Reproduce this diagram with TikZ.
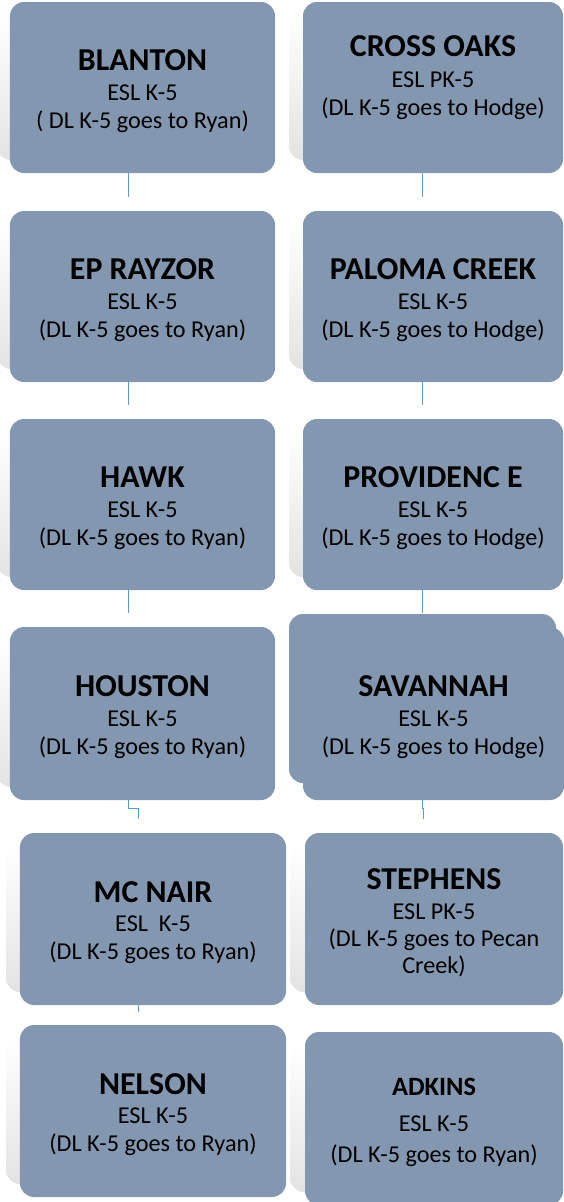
\documentclass[tikz,border=0pt]{standalone}
\usepackage{fontspec}
\setmainfont{Carlito}
\usetikzlibrary{positioning}
\definecolor{boxfill}{HTML}{8497B0}
\definecolor{linkblue}{HTML}{5B9BD5}
\tikzset{
  school/.style={fill=boxfill, rounded corners=14bp, minimum width=265bp, minimum height=171bp, inner sep=0pt},
  rschool/.style={school, minimum width=260bp},
  schooltext/.style={align=center, font=\fontsize{24.3}{28}\selectfont, yshift=-4bp},
  link/.style={draw=linkblue, line width=0.9bp},
  backshade/.style={top color=white, bottom color=gray!22, rounded corners=14bp}
}
\newcommand{\sname}[1]{{\fontsize{32}{32}\selectfont\bfseries #1}}

\begin{document}
\begin{tikzpicture}[x=1bp,y=-1bp]
\useasboundingbox (0,0) rectangle (564,1202);
% faint shadows behind the boxes
\shade[backshade] (-3,14) rectangle (60,160);
\shade[backshade] (-3,223) rectangle (60,369);
\shade[backshade] (-3,431) rectangle (60,577);
\shade[backshade] (-3,639) rectangle (60,787);
\shade[backshade] (6,845) rectangle (70,992);
\shade[backshade] (6,1037) rectangle (70,1184);
\shade[backshade] (289,14) rectangle (350,160);
\shade[backshade] (289,223) rectangle (350,369);
\shade[backshade] (289,431) rectangle (350,577);
\shade[backshade] (290,845) rectangle (350,992);
\shade[backshade] (290,1044) rectangle (350,1192);
% connectors
\coordinate (blantonend) at (128,197);
\coordinate (rayzorend) at (128,405);
\coordinate (hawkend) at (128,613);
\coordinate (houstonend) at (138,819);
\coordinate (mcnairend) at (138,1012);
\coordinate (crossend) at (422,197);
\coordinate (palomaend) at (422,405);
\coordinate (provend) at (422,613);
\coordinate (savannahend) at (423,819);
% left column
\node[school] (blanton) at (142.5,87.5) {};
\node[schooltext] (blantontxt) at (blanton) {\sname{BLANTON}\\[2bp]ESL K-5\\( DL K-5 goes to Ryan)};
\node[school] (rayzor) at (142.5,296.5) {};
\node[schooltext] (rayzortxt) at (rayzor) {\sname{EP RAYZOR}\\[2bp]ESL K-5\\(DL K-5 goes to Ryan)};
\node[school] (hawk) at (142.5,504.5) {};
\node[schooltext] (hawktxt) at (hawk) {\sname{HAWK}\\[2bp]ESL K-5\\(DL K-5 goes to Ryan)};
\node[school, minimum height=173bp] (houston) at (142.5,713.5) {};
\node[schooltext] (houstontxt) at (houston) {\sname{HOUSTON}\\[2bp]ESL K-5\\(DL K-5 goes to Ryan)};
\node[school, minimum width=266bp, minimum height=172bp] (mcnair) at (153,919) {};
\node[schooltext] (mcnairtxt) at (mcnair) {\sname{MC NAIR}\\[1bp]ESL\ \ K-5\\(DL K-5 goes to Ryan)};
\node[school, minimum width=266bp, minimum height=172bp] (nelson) at (153,1111) {};
\node[schooltext] (nelsontxt) at (nelson) {\sname{NELSON}\\[1bp]ESL K-5\\(DL K-5 goes to Ryan)};
% right column
\node[rschool] (crossoaks) at (433,87.5) {};
\node[schooltext, yshift=14bp] (crossoakstxt) at (crossoaks) {\sname{CROSS OAKS}\\[3bp]ESL PK-5\\(DL K-5 goes to Hodge)};
\node[rschool] (paloma) at (433,296.5) {};
\node[schooltext] (palomatxt) at (paloma) {\sname{PALOMA CREEK}\\[2bp]ESL K-5\\(DL K-5 goes to Hodge)};
\node[rschool] (providence) at (433,504.5) {};
\node[schooltext] (providencetxt) at (providence) {\sname{PROVIDENC E}\\[2bp]ESL K-5\\(DL K-5 goes to Hodge)};
\fill[boxfill, rounded corners=14bp] (289,614) rectangle (556,783);
\node[rschool, minimum width=261bp, minimum height=173bp] (savannah) at (433.5,713.5) {};
\node[schooltext] (savannahtxt) at (savannah) {\sname{SAVANNAH}\\[2bp]ESL K-5\\(DL K-5 goes to Hodge)};
\node[rschool, minimum width=258bp, minimum height=172bp] (stephens) at (434,919) {};
\node[schooltext, font=\fontsize{24.3}{27.5}\selectfont] (stephenstxt) at (stephens) {\sname{STEPHENS}\\[2bp]ESL PK-5\\(DL K-5 goes to Pecan\\Creek)};
\node[rschool, minimum width=258bp, minimum height=173bp] (adkins) at (434,1118.5) {};
\node[schooltext] (adkinstxt) at (adkins) {{\fontsize{26.5}{27}\selectfont\bfseries ADKINS}\\[8bp]ESL K-5\\[4bp](DL K-5 goes to Ryan)};
% links
\draw[link] (blantonend |- blanton.south) -- (blantonend);
\draw[link] (rayzorend |- rayzor.south) -- (rayzorend);
\draw[link] (hawkend |- hawk.south) -- (hawkend);
\draw[link] (128,0 |- houston.south) -- (128,808) -- (138,808) -- (houstonend);
\draw[link] (mcnairend |- mcnair.south) -- (mcnairend);
\draw[link] (crossend |- crossoaks.south) -- (crossend);
\draw[link] (palomaend |- paloma.south) -- (palomaend);
\draw[link] (provend |- providence.south) -- (provend);
\draw[link] (422,0 |- savannah.south) -- (422,808) -- (423,808) -- (savannahend);
\end{tikzpicture}
\end{document}
